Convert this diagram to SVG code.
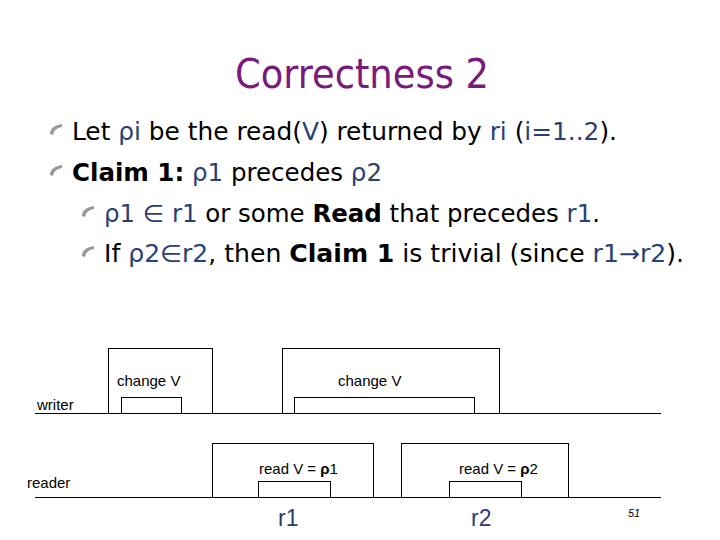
<svg xmlns="http://www.w3.org/2000/svg" width="720" height="540" viewBox="0 0 720 540">
<style>
.t{font-family:"DejaVu Sans Condensed","DejaVu Sans",sans-serif;font-size:24px;fill:#000}
.b{fill:#2a3f73}
.bold{font-weight:bold}
.box{fill:none;stroke:#000;stroke-width:1}
.lbl{font-family:"Liberation Sans",Arial,sans-serif;font-size:15px;fill:#000}
.bul{fill:#999}
</style>
<defs><path id="bu" d="M0,8 C0,2 5,-1 12,-2 L12,1 C7,2 4,4 3,9 Z"/></defs>
<rect width="720" height="540" fill="#fff"/>
<text x="362" y="88" text-anchor="middle" font-family="DejaVu Sans Condensed,DejaVu Sans,sans-serif" font-size="41" fill="#7a1a7a">Correctness 2</text>
<g id="bullets" class="bul">
<use href="#bu" x="50" y="126"/><use href="#bu" x="50" y="167"/><use href="#bu" x="82" y="208"/><use href="#bu" x="82" y="248"/>
</g>
<text class="t" x="72" y="140" textLength="545" lengthAdjust="spacingAndGlyphs">Let <tspan class="b">ρi</tspan> be the read(<tspan class="b">V</tspan>) returned by <tspan class="b">ri</tspan> (<tspan class="b">i=1..2</tspan>).</text>
<text class="t" x="72" y="181" textLength="310" lengthAdjust="spacingAndGlyphs"><tspan class="bold">Claim 1:</tspan> <tspan class="b">ρ1</tspan> precedes <tspan class="b">ρ2</tspan></text>
<text class="t" x="104" y="222" textLength="496" lengthAdjust="spacingAndGlyphs"><tspan class="b">ρ1 ∈ r1</tspan> or some <tspan class="bold">Read</tspan> that precedes <tspan class="b">r1</tspan>.</text>
<text class="t" x="104" y="262" textLength="580" lengthAdjust="spacingAndGlyphs">If <tspan class="b">ρ2∈r2</tspan>, then <tspan class="bold">Claim 1</tspan> is trivial (since <tspan class="b">r1→r2</tspan>).</text>
<g id="connectors">
<line x1="35" y1="413.5" x2="661" y2="413.5" stroke="#000"/>
<line x1="35" y1="497.5" x2="661" y2="497.5" stroke="#000"/>
</g>
<g id="w1"><rect class="box" x="108.5" y="348.5" width="104" height="65"/><rect class="box" x="121.5" y="397.5" width="60" height="16"/><text class="lbl" x="117" y="386">change V</text></g>
<g id="w2"><rect class="box" x="282.5" y="348.5" width="217" height="65"/><rect class="box" x="294.5" y="397.5" width="180" height="16"/><text class="lbl" x="338" y="386">change V</text></g>
<g id="r1"><rect class="box" x="212.5" y="443.5" width="161" height="54"/><rect class="box" x="258.5" y="481.5" width="72" height="16"/><text class="lbl" x="259" y="474">read V = <tspan font-weight="bold">ρ</tspan>1</text></g>
<g id="r2"><rect class="box" x="401.5" y="443.5" width="167" height="54"/><rect class="box" x="449.5" y="481.5" width="72" height="16"/><text class="lbl" x="459" y="474">read V = <tspan font-weight="bold">ρ</tspan>2</text></g>
<text class="lbl" x="37" y="410">writer</text>
<text class="lbl" x="27" y="488">reader</text>
<text x="278" y="526" font-family="Liberation Sans,Arial,sans-serif" font-size="23" fill="#2a3f73">r1</text>
<text x="471" y="526" font-family="Liberation Sans,Arial,sans-serif" font-size="23" fill="#2a3f73">r2</text>
<text x="628" y="517" font-family="Liberation Sans,Arial,sans-serif" font-size="11" font-style="italic">51</text>
</svg>
